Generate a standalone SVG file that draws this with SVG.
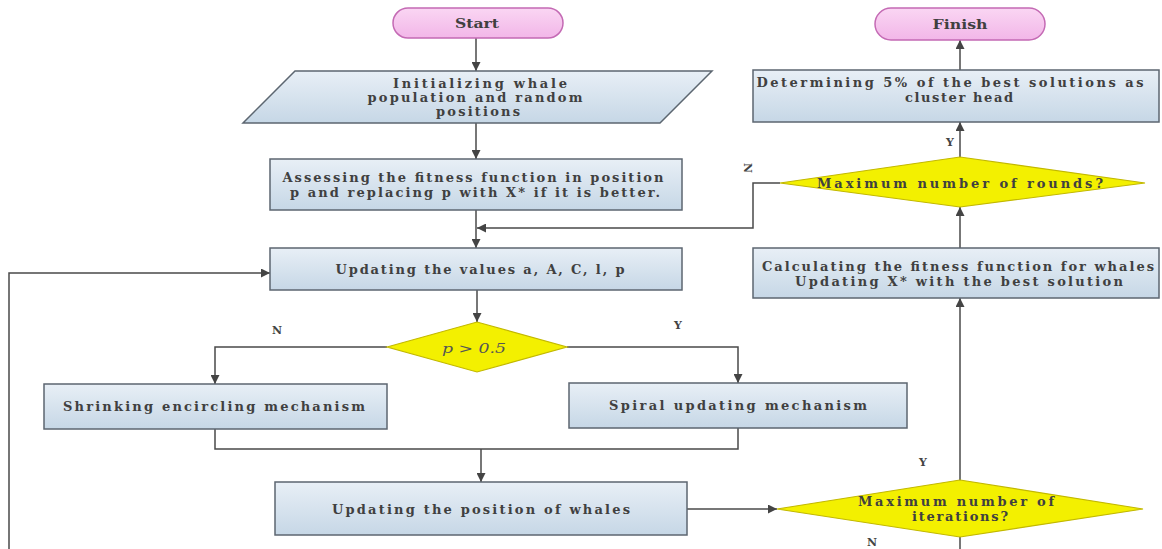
<svg xmlns="http://www.w3.org/2000/svg" width="1162" height="549" viewBox="0 0 1162 549">
<defs>
<linearGradient id="boxg" x1="0" y1="0" x2="0" y2="1">
<stop offset="0" stop-color="#e8eff6"/>
<stop offset="1" stop-color="#c6d7e6"/>
</linearGradient>
<linearGradient id="pillg" x1="0" y1="0" x2="0" y2="1">
<stop offset="0" stop-color="#fad6f3"/>
<stop offset="1" stop-color="#f2b6e8"/>
</linearGradient>
<marker id="arr" viewBox="0 0 10 10" refX="10" refY="5" markerWidth="9" markerHeight="9" markerUnits="userSpaceOnUse" orient="auto">
<path d="M0,0 L10,5 L0,10 z" fill="#444"/>
</marker>
<style>
.box{fill:url(#boxg);stroke:#5c6670;stroke-width:1.5}
.pill{fill:url(#pillg);stroke:#c46ab4;stroke-width:1.5}
.dia{fill:#f3f000;stroke:#c2b800;stroke-width:1.2}
.t{font-family:"DejaVu Serif","Liberation Serif",serif;font-size:13px;font-weight:bold;fill:#404040;text-anchor:middle}
.lbl{font-family:"DejaVu Serif","Liberation Serif",serif;font-size:11px;font-weight:bold;fill:#444;text-anchor:middle}
.c{fill:none;stroke:#4a4a4a;stroke-width:1.5}
</style>
</defs>

<g id="connectors">
<line class="c" x1="476" y1="38" x2="476" y2="71" marker-end="url(#arr)"/>
<line class="c" x1="476" y1="123" x2="476" y2="159" marker-end="url(#arr)"/>
<line class="c" x1="476" y1="210" x2="476" y2="248" marker-end="url(#arr)"/>
<polyline class="c" points="780,183 753,183 753,228 477,228" marker-end="url(#arr)"/>
<line class="c" x1="477" y1="290" x2="477" y2="322" marker-end="url(#arr)"/>
<polyline class="c" points="387,347 215,347 215,384" marker-end="url(#arr)"/>
<polyline class="c" points="567,347 738,347 738,383" marker-end="url(#arr)"/>
<polyline class="c" points="215,429 215,449 738,449 738,428"/>
<line class="c" x1="481" y1="449" x2="481" y2="482" marker-end="url(#arr)"/>
<line class="c" x1="687" y1="509" x2="777" y2="509" marker-end="url(#arr)"/>
<line class="c" x1="960" y1="480" x2="960" y2="298" marker-end="url(#arr)"/>
<line class="c" x1="960" y1="248" x2="960" y2="207" marker-end="url(#arr)"/>
<line class="c" x1="960" y1="157" x2="960" y2="122" marker-end="url(#arr)"/>
<line class="c" x1="960" y1="70" x2="960" y2="40" marker-end="url(#arr)"/>
<line class="c" x1="960" y1="537" x2="960" y2="552"/>
<polyline class="c" points="9,552 9,273 270,273" marker-end="url(#arr)"/>
<text class="lbl" transform="translate(748,168) rotate(90)" y="4">N</text>
<text class="lbl" x="950" y="146">Y</text>
<text class="lbl" x="277" y="334">N</text>
<text class="lbl" x="678" y="329">Y</text>
<text class="lbl" x="923" y="466">Y</text>
<text class="lbl" x="872" y="546">N</text>
</g>

<g id="start">
<rect class="pill" x="393" y="8" width="170" height="30" rx="15"/>
<text class="t" x="477" y="28" textLength="44" lengthAdjust="spacingAndGlyphs">Start</text>
</g>

<g id="finish">
<rect class="pill" x="875" y="8" width="170" height="32" rx="16"/>
<text class="t" x="960" y="29" textLength="55" lengthAdjust="spacingAndGlyphs">Finish</text>
</g>

<g id="init">
<polygon class="box" points="295,71 712,71 660,123 243,123"/>
<text class="t" x="480" y="88" textLength="174" lengthAdjust="spacing">Initializing whale</text>
<text class="t" x="475" y="102" textLength="215" lengthAdjust="spacing">population and random</text>
<text class="t" x="478" y="116" textLength="84" lengthAdjust="spacing">positions</text>
</g>

<g id="assess">
<rect class="box" x="270" y="159" width="412" height="51"/>
<text class="t" x="473" y="182" textLength="381" lengthAdjust="spacing">Assessing the fitness function in position</text>
<text class="t" x="475" y="197" textLength="370" lengthAdjust="spacing">p and replacing p with X* if it is better.</text>
</g>

<g id="update-values">
<rect class="box" x="270" y="248" width="412" height="42"/>
<text class="t" x="480" y="274" textLength="289" lengthAdjust="spacing">Updating the values a, A, C, l, p</text>
</g>

<g id="p-decision">
<polygon class="dia" points="387,347 477,322 567,347 477,372"/>
<text x="474" y="353" text-anchor="middle" font-family="DejaVu Serif, Liberation Serif, serif" font-size="13" font-style="italic" fill="#555" textLength="64" lengthAdjust="spacingAndGlyphs">p &gt; 0.5</text>
</g>

<g id="shrinking">
<rect class="box" x="44" y="384" width="343" height="45"/>
<text class="t" x="214" y="411" textLength="302" lengthAdjust="spacing">Shrinking encircling mechanism</text>
</g>

<g id="spiral">
<rect class="box" x="569" y="383" width="338" height="45"/>
<text class="t" x="738" y="410" textLength="258" lengthAdjust="spacing">Spiral updating mechanism</text>
</g>

<g id="update-position">
<rect class="box" x="275" y="482" width="412" height="53"/>
<text class="t" x="481" y="514" textLength="298" lengthAdjust="spacing">Updating the position of whales</text>
</g>

<g id="iterations">
<polygon class="dia" points="777,509 960,480 1143,509 960,537"/>
<text class="t" x="956" y="506" textLength="196" lengthAdjust="spacing">Maximum number of</text>
<text class="t" x="960" y="521" textLength="96" lengthAdjust="spacing">iterations?</text>
</g>

<g id="calculating">
<rect class="box" x="753" y="248" width="406" height="50"/>
<text class="t" x="958" y="271" textLength="392" lengthAdjust="spacing">Calculating the fitness function for whales</text>
<text class="t" x="959" y="286" textLength="328" lengthAdjust="spacing">Updating X* with the best solution</text>
</g>

<g id="rounds">
<polygon class="dia" points="780,183 960,157 1145,183 960,207"/>
<text class="t" x="960" y="188" textLength="286" lengthAdjust="spacing">Maximum number of rounds?</text>
</g>

<g id="determining">
<rect class="box" x="753" y="70" width="406" height="52"/>
<text class="t" x="950" y="87" textLength="387" lengthAdjust="spacing">Determining 5% of the best solutions as</text>
<text class="t" x="959" y="102" textLength="108" lengthAdjust="spacing">cluster head</text>
</g>
</svg>
